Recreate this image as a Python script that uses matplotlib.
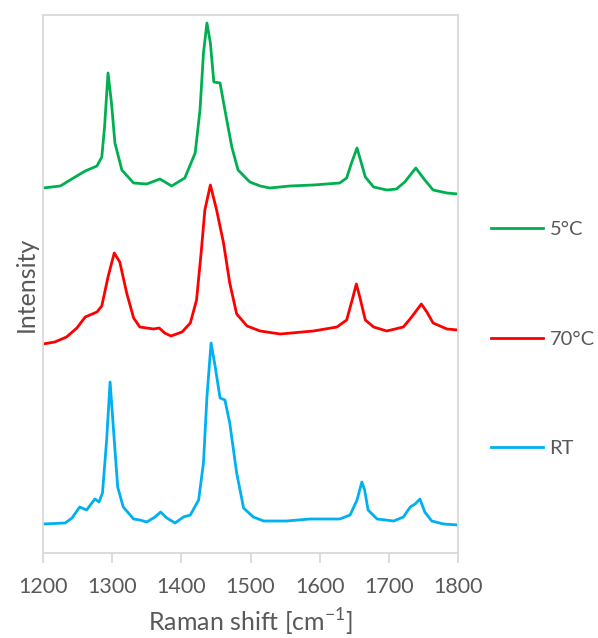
import matplotlib.pyplot as plt

plt.rcParams['font.family'] = ['Lato', 'DejaVu Sans']
plt.rcParams['mathtext.fontset'] = 'custom'
plt.rcParams['mathtext.rm'] = 'Lato'

# espectros Raman (intensidad en unidades arbitrarias, ya desplazadas)
shift_5c = [1200, 1225, 1244, 1261, 1278, 1285, 1289, 1294, 1299, 1304,
            1314, 1331, 1350, 1369, 1386, 1405, 1420, 1427, 1432, 1437,
            1442, 1447, 1456, 1463, 1473, 1482, 1499, 1514, 1528, 1557,
            1591, 1629, 1639, 1646, 1654, 1659, 1666, 1678, 1697, 1711,
            1723, 1739, 1752, 1764, 1784, 1800]
int_5c = [365, 367, 375, 382, 387, 396, 426, 480, 450, 410,
          383, 370, 369, 374, 367, 375, 400, 443, 500, 530,
          510, 471, 470, 443, 406, 383, 371, 367, 365, 367,
          368, 370, 375, 390, 405, 393, 376, 366, 363, 364,
          371, 385, 373, 363, 360, 359]

shift_70c = [1200, 1217, 1234, 1249, 1261, 1278, 1285, 1294, 1303, 1311,
             1321, 1331, 1340, 1360, 1368, 1376, 1385, 1401, 1413, 1422,
             1429, 1434, 1442, 1451, 1461, 1470, 1480, 1495, 1514, 1543,
             1591, 1625, 1639, 1647, 1653, 1658, 1666, 1678, 1697, 1721,
             1733, 1747, 1755, 1764, 1784, 1800]
int_70c = [209, 211, 216, 225, 236, 241, 247, 276, 300, 291,
           260, 235, 226, 224, 225, 220, 217, 221, 230, 253,
           303, 343, 368, 343, 310, 270, 239, 227, 222, 219,
           222, 226, 233, 253, 269, 256, 233, 226, 222, 226,
           236, 249, 241, 230, 224, 223]

shift_rt = [1200, 1232, 1242, 1253, 1263, 1275, 1281, 1286, 1292, 1297,
            1303, 1308, 1316, 1331, 1340, 1350, 1362, 1370, 1379, 1391,
            1403, 1413, 1425, 1432, 1437, 1443, 1449, 1456, 1463, 1470,
            1480, 1490, 1504, 1519, 1552, 1586, 1629, 1644, 1654, 1661,
            1665, 1670, 1683, 1707, 1721, 1731, 1738, 1745, 1752, 1762,
            1779, 1800]
int_rt = [29, 30, 35, 46, 43, 54, 51, 60, 113, 171,
          113, 66, 46, 34, 33, 31, 36, 41, 35, 30,
          36, 38, 53, 90, 156, 210, 186, 155, 153, 130,
          80, 45, 36, 32, 32, 34, 34, 38, 53, 71,
          63, 43, 34, 32, 36, 46, 49, 54, 41, 32,
          29, 28]

xticks = [1200, 1300, 1400, 1500, 1600, 1700, 1800]

text_color = '#595959'
grid_color = '#D9D9D9'

fig = plt.figure(figsize=(5.98, 6.38), dpi=100)
ax = fig.add_axes([43 / 598, 85 / 638, 415 / 598, 538 / 638])

ax.plot(shift_5c, int_5c, color='#00B050', lw=2.0, label='5°C')
ax.plot(shift_70c, int_70c, color='#FF0000', lw=2.0, label='70°C')
ax.plot(shift_rt, int_rt, color='#00B0F0', lw=2.0, label='RT')

ax.set_xlim(1200, 1800)
ax.set_ylim(0, 538)
ax.set_xticks(xticks)
ax.set_yticks([])

for s in ax.spines.values():
    s.set_color(grid_color)
    s.set_linewidth(1.3)

ax.tick_params(axis='x', direction='out', length=7, width=1.3, color=grid_color,
               labelcolor=text_color, labelsize=15.5, pad=10)

ax.set_xlabel(r'Raman shift [cm$^{\mathregular{-1}}$]', fontsize=18, color=text_color)
ax.set_ylabel('Intensity', fontsize=18, color=text_color)
ax.xaxis.set_label_coords(0.5, -0.1)
ax.yaxis.set_label_coords(-0.012, 0.5)

ax.legend(loc='center left', bbox_to_anchor=(491 / 598, 299 / 638),
          bbox_transform=fig.transFigure, frameon=False, fontsize=14.5,
          labelcolor=text_color, handlelength=2.6, handletextpad=0.3,
          labelspacing=4.6, borderpad=0, borderaxespad=0)

plt.savefig('out.png', dpi=100)
